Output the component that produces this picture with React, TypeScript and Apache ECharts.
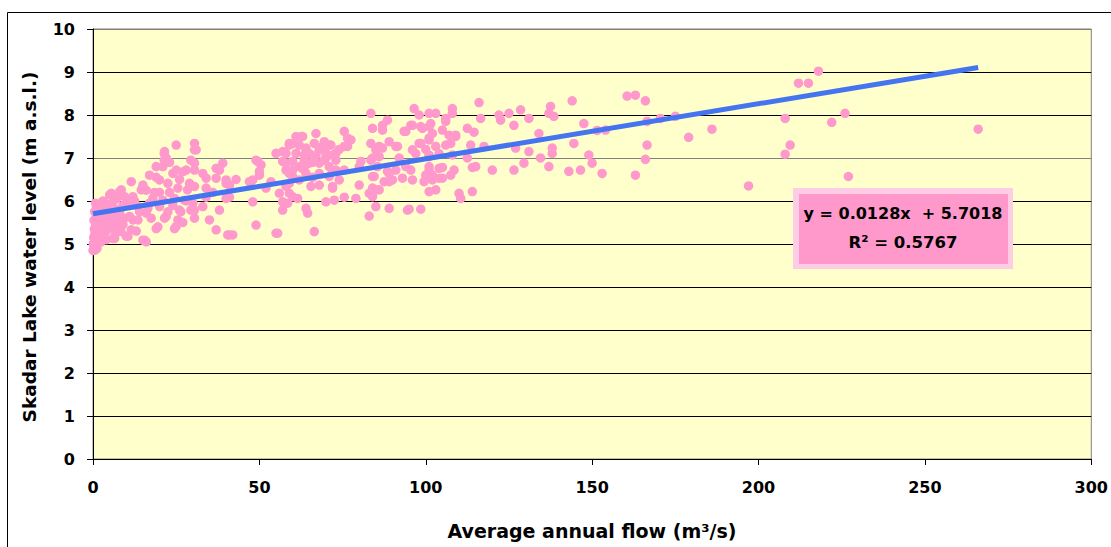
import React, { useEffect, useRef } from "react";
import * as echarts from "echarts";

// Average annual flow (m3/s) vs Skadar Lake water level (m a.s.l.)
const flowLevelPoints: [number, number][] = [
  // 0-5
  [0, 4.85], [0.3, 4.95], [0.5, 5.05], [0.2, 5.15], [0.6, 5.25], [0.4, 5.35], [0.8, 5.45], [0.3, 5.55], [1, 5.65], [0.5, 5.75],
  [1.2, 4.9], [1.5, 5.02], [1.8, 5.12], [1.3, 5.3], [2, 5.45], [1.6, 5.6], [2.2, 5.75], [1, 5.85], [2.5, 5.2], [3, 5.35],
  [3.5, 5.48], [2.8, 5.6], [3.2, 5.8], [4, 5.1], [4.5, 5.9], [4.2, 5.55], [0.6, 4.86], [0.1, 5.0], [1.1, 5.12], [2.4, 5.05],
  [1.5, 5.4], [2.5, 5.65], [3.5, 5.95], [4, 5.3], [3, 6.0], [2, 5.9], [0.8, 5.95], [4.8, 5.7],
  // 5-15
  [5.5, 6.18], [5, 6.14], [5.5, 5.64], [6, 5.98], [6, 5.13], [6.5, 5.13], [7.5, 5.36], [8, 6.22], [8.5, 6.26], [8.4, 5.29],
  [9.5, 5.6], [10, 5.18], [10.5, 5.95], [10.5, 5.18], [11, 5.64], [11.5, 6.45], [11.5, 5.33], [12, 5.56], [13.5, 5.87], [13.5, 5.56],
  [14.5, 6.26], [15, 6.37], [15, 5.09], [15.5, 5.09], [7, 5.8], [9, 5.45], [12.5, 6.0], [6.5, 5.5], [8, 5.75], [13, 5.3],
  [5, 5.4], [6, 5.75], [7, 6.05], [7.5, 5.6], [9, 5.9], [9.5, 6.1], [6.8, 5.25], [12, 6.1], [14, 5.75],
  // 15-30
  [16, 5.05], [16, 5.72], [16.5, 5.83], [17, 6.6], [17.5, 5.6], [18, 6.06], [19, 5.36], [19.5, 5.4], [20, 6.49], [20, 5.87],
  [21, 6.8], [21, 6.02], [21.4, 7.11], [21.4, 6.95], [21.5, 7.15], [21.5, 5.6], [22, 5.64], [22.5, 6.41], [22.5, 5.75], [24, 6.64],
  [24.5, 6.06], [24.5, 5.36], [25, 7.3], [25, 6.72], [25, 5.41], [25.5, 6.3], [25.5, 5.56], [26, 5.79], [26.4, 5.75], [27, 6.68],
  [27.5, 6.02], [28, 6.72], [28.4, 6.26], [29, 6.41], [29.4, 6.95], [29.4, 5.79], [30, 5.95], [18.5, 6.2], [23, 6.9],
  [16, 6.25], [17, 5.95], [19, 6.55], [20, 6.2], [23, 6.2], [24, 5.9], [26, 6.5], [27, 5.5], [28, 6.0], [22, 7.0], [19, 6.8],
  // 30-45
  [30.5, 7.34], [30.5, 7.19], [30.5, 6.88], [30.5, 6.72], [30.5, 6.34], [30.5, 5.79], [30.5, 5.6], [31, 7.19], [33, 6.64], [33, 5.87],
  [34, 6.53], [34, 6.3], [34, 6.09], [35, 5.56], [37, 6.76], [37, 6.53], [37, 5.33], [38, 6.72], [38, 5.79], [39, 6.88],
  [40, 6.49], [40, 6.41], [40, 6.06], [40.5, 5.21], [41, 6.37], [41, 6.09], [41, 5.21], [42, 5.21], [36, 6.2], [43, 6.5],
  // 45-60
  [47, 6.45], [48, 6.49], [48, 5.98], [49, 6.95], [49, 5.44], [49.5, 6.92], [50, 6.69], [50, 6.6], [50.5, 6.84], [53.5, 6.45],
  [55, 7.11], [55, 5.25], [55.5, 5.25], [56, 6.18], [57, 7.15], [57, 6.92], [57, 5.98], [57, 5.79], [58, 7.11], [58, 6.88],
  [58, 6.72], [58, 6.34], [58.5, 5.95], [59, 7.34], [59, 7.3], [59, 6.64], [59, 6.41], [59, 6.18], [60, 7.34], [60, 6.92],
  [60, 6.72], [60, 6.57], [60, 6.1], [52, 6.3],
  // 60-80
  [61, 7.5], [61, 7.11], [61.5, 6.06], [62, 6.49], [62.5, 7.5], [63, 7.5], [63.5, 6.95], [63.5, 7.07], [64, 7.19], [64, 7.23],
  [64, 6.84], [64, 6.64], [64, 5.83], [64.5, 5.72], [65, 6.88], [65.5, 6.34], [66.5, 7.34], [66.5, 5.29], [67, 7.57], [67, 7.07],
  [68, 6.88], [68, 6.64], [68, 6.37], [69, 7.27], [69.5, 6.95], [69.5, 7.38], [70, 7.11], [70, 5.98], [71, 7.3], [71, 6.57],
  [71.5, 7.3], [72, 7.07], [72, 6.69], [72, 6.34], [72, 6.3], [72.5, 6.02], [73, 7.11], [73, 6.72], [74, 6.49], [75.5, 7.62],
  [75.5, 7.27], [75.5, 6.72], [75.5, 6.09], [76.5, 7.46], [76.5, 7.27], [77.5, 7.42], [79, 6.06], [80, 6.37], [80, 6.8], [80.5, 6.92],
  [62, 7.3], [63, 6.75], [65, 7.1], [66, 6.9], [68, 7.2], [70, 7.0], [71, 6.8], [73, 6.95], [74, 7.2], [62, 6.8], [66, 6.55],
  // 80-100
  [83, 6.18], [83, 5.65], [83.5, 8.04], [83.5, 7.34], [83.5, 6.95], [84, 7.69], [84, 7.0], [84, 6.57], [84, 6.3], [84, 6.1],
  [84.5, 6.57], [85, 7.19], [85, 6.26], [85, 5.87], [85.5, 6.8], [86, 7.03], [86, 7.27], [86, 6.26], [87, 7.76], [87, 7.23],
  [87, 7.65], [87.5, 6.45], [88.5, 7.88], [88.5, 6.69], [89, 7.38], [89, 6.64], [89, 6.45], [89, 5.83], [90, 6.49], [91, 7.27],
  [91, 6.72], [91.5, 7.27], [93, 6.53], [93.5, 7.62], [94, 7.62], [94.5, 5.79], [95, 5.81], [95.5, 7.76], [95.5, 6.72], [96, 7.76],
  [96, 7.19], [96, 6.49], [96.5, 8.15], [98, 8.0], [98, 7.34], [98.5, 7.73], [98.5, 7.34], [98.5, 5.81], [99, 7.69], [99.5, 6.45],
  [92, 7.0], [94, 6.8], [97, 7.1],
  // 100-125
  [101, 8.04], [101, 7.73], [101, 7.46], [101, 7.42], [101, 7.07], [101, 7.03], [101, 6.8], [101, 6.72], [101, 6.22], [101.5, 7.8],
  [101.5, 6.53], [102, 7.57], [102, 6.6], [102, 6.49], [103, 8.04], [103, 7.27], [103, 6.26], [104, 6.76], [104, 6.53], [105, 7.65],
  [105, 6.78], [105, 6.53], [106, 7.92], [106, 7.85], [107, 7.53], [107.5, 7.34], [107.5, 6.6], [108, 8.15], [108, 8.04], [108, 7.07],
  [108.5, 6.72], [109, 7.53], [109, 7.5], [110, 6.18], [110.5, 6.06], [112.5, 7.69], [112.5, 7.0], [113.5, 7.3], [114, 6.78], [114, 6.22],
  [114.5, 7.6], [115, 6.8], [116, 8.29], [116.5, 7.92], [117.5, 7.27], [120, 6.72], [122, 8.0], [122.5, 7.88],
  [100, 7.2], [104, 7.1], [106, 7.3], [100, 6.6],
  // 125-165
  [125, 8.04], [126.5, 7.76], [126.5, 6.72], [127, 7.23], [128.5, 8.12], [129.5, 6.88], [131, 7.92], [131, 7.15], [134, 7.57], [134.5, 7.0],
  [137, 8.04], [137, 6.8], [137.5, 8.2], [138, 7.23], [138, 7.11], [138.5, 7.97], [143, 6.69], [144, 8.33], [144.5, 7.34], [146.5, 6.72],
  [147.5, 7.8], [149, 7.07], [150, 6.88], [151.5, 7.64], [153, 6.64], [154, 7.65], [160.5, 8.44], [163, 8.46], [163, 6.6], [166, 8.33],
  [166, 6.97], [166.5, 7.85], [166.5, 7.3],
  // 165+
  [170.5, 7.92], [175, 7.97], [179, 7.48], [186, 7.67], [197, 6.35], [208, 7.92], [208, 7.09], [209.5, 7.3], [212, 8.74], [215, 8.74],
  [218, 9.02], [222, 7.83], [226, 8.04], [227, 6.57], [266, 7.67],
];

// Linear trend (from the chart's equation)
const trendSlope = 0.0128;
const trendIntercept = 5.7018;
const trendRangeX = [0, 266];
const equationText = "y = 0.0128x  + 5.7018";
const r2Text = "R² = 0.5767";

const xTicks = { min: 0, max: 300, interval: 50 };
const yTicks = { min: 0, max: 10, interval: 1 };

const xTitle = "Average annual flow (m³/s)";
const yTitle = "Skadar Lake water level (m a.s.l.)";

const FONT = "DejaVu Sans";

export default function App() {
  const ref = useRef<HTMLDivElement>(null);
  useEffect(() => {
    if (!ref.current) return;
    const chart = echarts.init(ref.current, null, { renderer: "svg" });
    const trendData = trendRangeX.map((x) => [x, trendIntercept + trendSlope * x]);
    const splitColors = ["#000", "#000", "#000", "#000", "#000", "#000", "#000", "#808080", "#000", "#000", "#808080"];
    chart.setOption({
      animation: false,
      backgroundColor: "#ffffff",
      grid: {
        left: 93,
        right: 15,
        top: 29,
        bottom: 88,
        show: true,
        backgroundColor: "#FFFFCC",
        borderColor: "#808080",
        borderWidth: 1,
      },
      xAxis: {
        type: "value",
        min: xTicks.min,
        max: xTicks.max,
        interval: xTicks.interval,
        axisLine: { show: true, onZero: false, lineStyle: { color: "#000", width: 1 } },
        axisTick: { show: true, inside: false, length: 6, lineStyle: { color: "#000" } },
        axisLabel: { color: "#000", fontFamily: FONT, fontWeight: "bold", fontSize: 16, margin: 20 },
        splitLine: { show: false },
      },
      yAxis: {
        type: "value",
        min: yTicks.min,
        max: yTicks.max,
        interval: yTicks.interval,
        axisLine: { show: true, onZero: false, lineStyle: { color: "#000", width: 1 } },
        axisTick: { show: true, inside: false, length: 6, lineStyle: { color: "#000" } },
        axisLabel: { color: "#000", fontFamily: FONT, fontWeight: "bold", fontSize: 16, margin: 18 },
        splitLine: { show: true, lineStyle: { color: splitColors, width: 1 } },
      },
      series: [
        {
          type: "scatter",
          data: flowLevelPoints,
          symbol: "circle",
          symbolSize: 9.5,
          itemStyle: { color: "#FF99CC", opacity: 1 },
          silent: true,
          z: 2,
        },
        {
          type: "line",
          data: trendData,
          showSymbol: false,
          symbol: "none",
          lineStyle: { color: "#4474F0", width: 5 },
          silent: true,
          z: 3,
        },
      ],
      graphic: [
        {
          type: "rect",
          shape: { x: 7.5, y: 12.5, width: 1200, height: 700 },
          style: { fill: "none", stroke: "#000", lineWidth: 1 },
          silent: true,
          z: -10,
        },
        {
          type: "text",
          x: 29,
          y: 247,
          rotation: Math.PI / 2,
          style: {
            text: yTitle,
            fill: "#000",
            font: `bold 18.5px "${FONT}"`,
            align: "center",
            verticalAlign: "middle",
          },
        },
        {
          type: "text",
          x: 592,
          y: 531,
          style: {
            text: xTitle,
            fill: "#000",
            font: `bold 19px "${FONT}"`,
            align: "center",
            verticalAlign: "middle",
          },
        },
        {
          type: "rect",
          shape: { x: 793, y: 188, width: 220, height: 81 },
          style: { fill: "#FFCCE6", stroke: "none" },
          z: 10,
        },
        {
          type: "rect",
          shape: { x: 799, y: 194, width: 209, height: 70 },
          style: { fill: "#FF99CC", stroke: "none" },
          z: 11,
        },
        {
          type: "text",
          x: 903,
          y: 213,
          z: 12,
          style: {
            text: equationText,
            fill: "#000",
            font: `bold 16px "${FONT}"`,
            align: "center",
            verticalAlign: "middle",
          },
        },
        {
          type: "text",
          x: 903,
          y: 242,
          z: 12,
          style: {
            text: r2Text,
            fill: "#000",
            font: `bold 16.5px "${FONT}"`,
            align: "center",
            verticalAlign: "middle",
          },
        },
      ],
    });
    return () => chart.dispose();
  }, []);
  return (
    <div
      ref={ref}
      style={{ position: "fixed", left: 0, top: 0, width: 1111, height: 547 }}
    />
  );
}
